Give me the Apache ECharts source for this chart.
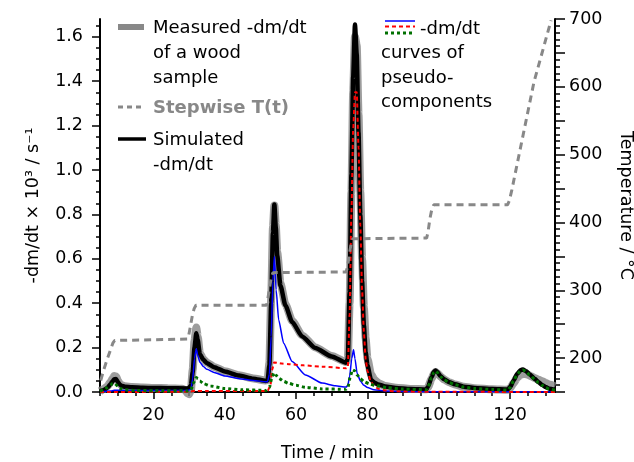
<!DOCTYPE html>
<html>
<head>
<meta charset="utf-8">
<script src="https://cdn.jsdelivr.net/npm/echarts@6/dist/echarts.min.js"></script>
<style>html,body{margin:0;padding:0;background:#fff}#c{width:634px;height:462px}</style>
</head>
<body>
<div id="c"></div>
<script>
// ---- data (time in min, -dm/dt ×10^3 in 1/s, temperature in °C) ----
var measuredT = [5,6,7,8,8.5,9,9.5,10,10.5,11,12,14,17,20,24,28,29,29.5,30,30.5,31,31.5,32,32.4,33,34,35,37,40,44,48,51.5,52,52.5,53,53.5,53.9,54.3,54.7,55.6,57,58.9,61.7,65.4,70,74,74.5,75,75.5,76,76.5,77,77.5,78,78.5,79,79.5,80,81,82,83,85,88,92,96.5,97,98,98.6,99.1,99.6,100.5,101.5,103,104.5,107,110,115,119.3,120,121,122,123,124,125,126,127,128,129,130,131,132.6];
var measuredV = [0.004,0.012,0.025,0.045,0.06,0.072,0.07,0.052,0.038,0.031,0.026,0.022,0.02,0.018,0.017,0.015,0.008,-0.005,-0.01,0.01,0.1,0.23,0.29,0.25,0.175,0.148,0.132,0.113,0.093,0.075,0.061,0.052,0.055,0.13,0.42,0.74,0.84,0.75,0.63,0.49,0.395,0.32,0.255,0.2,0.162,0.135,0.15,0.4,0.9,1.35,1.6,1.56,1.25,0.9,0.6,0.38,0.24,0.15,0.08,0.055,0.04,0.027,0.019,0.014,0.012,0.022,0.06,0.082,0.09,0.085,0.07,0.056,0.043,0.034,0.024,0.017,0.012,0.01,0.017,0.04,0.065,0.078,0.082,0.078,0.07,0.062,0.055,0.048,0.041,0.034,0.025];

var simulatedT = [5,6,7,8,8.5,9,9.5,10,10.5,11,12,14,17,20,24,29.5,30,30.5,31,31.5,32,32.4,33,34,35,37,40,44,48,51.5,52,52.5,53,53.5,53.9,54.3,54.7,55.6,57,58.9,61.7,65.4,70,74,74.5,75,75.5,76,76.5,77,77.5,78,78.5,79,79.5,80,81,82,83,85,88,92,96.5,97,98,98.6,99.1,99.6,100.5,101.5,103,104.5,107,110,115,119.3,120,121,122,123,123.6,124.5,125.5,127,128,129,130,131,132.6];
var simulatedV = [0.003,0.008,0.018,0.036,0.048,0.057,0.058,0.045,0.034,0.028,0.024,0.021,0.019,0.018,0.017,0.016,0.018,0.03,0.09,0.2,0.265,0.235,0.17,0.145,0.13,0.112,0.092,0.074,0.06,0.05,0.052,0.12,0.4,0.72,0.845,0.74,0.615,0.48,0.39,0.315,0.25,0.198,0.16,0.132,0.15,0.45,0.98,1.42,1.655,1.52,1.17,0.8,0.5,0.3,0.18,0.12,0.055,0.042,0.034,0.025,0.018,0.013,0.011,0.024,0.067,0.09,0.097,0.09,0.071,0.057,0.044,0.035,0.024,0.018,0.013,0.011,0.022,0.052,0.082,0.099,0.101,0.094,0.079,0.058,0.044,0.032,0.022,0.015,0.01];

var comp1T = [5,8,9,10,12,20,29.5,30.5,31,31.5,32,32.4,33,34,35,37,40,44,48,51.5,52,52.5,53,53.5,53.9,54.4,55.1,56.5,58.9,62.6,67.3,71,74,74.5,75,75.6,76.1,76.5,77.1,78,79,80,81.8,85,90,100,132.6];
var comp1V = [0,0.004,0.008,0.008,0.007,0.007,0.007,0.012,0.06,0.15,0.195,0.165,0.135,0.115,0.102,0.088,0.072,0.06,0.052,0.046,0.047,0.08,0.25,0.5,0.61,0.46,0.325,0.22,0.137,0.077,0.04,0.028,0.022,0.03,0.07,0.15,0.19,0.15,0.085,0.05,0.03,0.02,0.01,0.005,0.002,0.001,0];

var comp2T = [5,30,31,35,52,52.8,53.3,53.8,56,58,62,67.3,74,74.5,75,75.5,76,76.5,77,77.5,78,78.5,79,79.5,80,81,82,83,85,88,95,132.6];
var comp2V = [0,0.001,0.004,0.004,0.005,0.03,0.1,0.133,0.128,0.125,0.12,0.114,0.107,0.11,0.35,0.8,1.18,1.35,1.35,1.1,0.75,0.46,0.27,0.15,0.095,0.045,0.025,0.015,0.007,0.003,0.001,0];

var comp3T = [5,6,7,8,8.5,9,9.5,10,11,12,15,20,29.5,30.5,31.2,32,32.5,33,34,36,40,45,51.5,52.5,53.2,53.8,54.4,55.1,56.5,57.9,60,62.6,67.3,74,74.5,75.2,75.8,76.5,77.1,78,79,80.5,82,85.6,90,96.5,97,98,98.6,99.1,99.6,100.5,101.5,103,104.5,107,110,115,119.3,120,121,122,123,123.6,124.5,125.5,127,128,129,130,131,132.6];
var comp3V = [0.003,0.01,0.02,0.032,0.038,0.04,0.033,0.024,0.014,0.01,0.007,0.006,0.005,0.01,0.04,0.065,0.06,0.05,0.038,0.027,0.016,0.01,0.007,0.02,0.065,0.087,0.075,0.062,0.048,0.039,0.03,0.021,0.014,0.012,0.02,0.07,0.1,0.095,0.077,0.06,0.047,0.037,0.03,0.019,0.013,0.01,0.022,0.065,0.088,0.095,0.088,0.069,0.055,0.042,0.033,0.022,0.016,0.011,0.009,0.02,0.05,0.08,0.097,0.099,0.092,0.077,0.056,0.042,0.03,0.02,0.013,0.008];

var tempT = [5.2,6,7,8,8.6,9.1,9.6,29.5,29.9,30.4,30.9,31.4,31.9,51.7,52.0,52.5,53.0,53.5,74.0,74.4,74.9,75.4,75.9,96.6,97.0,97.5,98.0,98.6,119.3,119.8,120.5,126.7,131.5];
var tempV = [167,182,198,213,222,226,228,228,234,248,263,273,278,278,285,302,318,326,327,334,352,368,376,377,386,405,418,426,426,432,448,607,698];

var xMajorTicks = [20,40,60,80,100,120];
var xMinorTicks = [5,10,15,25,30,35,45,50,55,65,70,75,85,90,95,105,110,115,125,130];
var yMajorTicks = [0,0.2,0.4,0.6,0.8,1.0,1.2,1.4,1.6];
var yMinorTicks = [0.05,0.1,0.15,0.25,0.3,0.35,0.45,0.5,0.55,0.65,0.7,0.75,0.85,0.9,0.95,1.05,1.1,1.15,1.25,1.3,1.35,1.45,1.5,1.55,1.65];
var tMajorTicks = [200,300,400,500,600,700];
var tMidTicks = [150,250,350,450,550,650];
var tMinorTicks = [160,170,180,190,210,220,230,240,260,270,280,290,310,320,330,340,360,370,380,390,410,420,430,440,460,470,480,490,510,520,530,540,560,570,580,590,610,620,630,640,660,670,680,690];

function pairs(t, v) { return t.map(function (x, i) { return [x, v[i]]; }); }

var FONT = 'DejaVu Sans';
var X0 = 5, X1 = 132.6, Y0 = 0, Y1 = 1.68, T0 = 150, T1 = 700;

function xAx(ticks, len, labels, line) {
  return {
    type: 'value', min: X0, max: X1, position: 'bottom',
    splitLine: {show: false},
    axisLine: {show: line, onZero: false, lineStyle: {color: '#000', width: 2}},
    axisTick: {show: true, customValues: ticks, length: len, lineStyle: {color: '#000', width: 1.5}},
    axisLabel: labels ? {customValues: ticks, color: '#000', fontFamily: FONT, fontSize: 17.5, margin: 14} : {show: false},
    name: labels ? 'Time / min' : '', nameLocation: 'middle', nameGap: 52,
    nameTextStyle: {color: '#000', fontFamily: FONT, fontSize: 17.5}
  };
}
function yAx(pos, min, max, ticks, len, labels, line, name, rot, gap, margin, fmt) {
  return {
    type: 'value', min: min, max: max, position: pos,
    splitLine: {show: false},
    axisLine: {show: line, onZero: false, lineStyle: {color: '#000', width: 2}},
    axisTick: {show: true, customValues: ticks, length: len, lineStyle: {color: '#000', width: 1.5}},
    axisLabel: labels ? {customValues: ticks, color: '#000', fontFamily: FONT, fontSize: 17.5, margin: margin, formatter: fmt} : {show: false},
    name: name, nameLocation: 'middle', nameRotate: rot, nameGap: gap,
    nameTextStyle: {color: '#000', fontFamily: FONT, fontSize: 17.5}
  };
}

var chart = echarts.init(document.getElementById('c'), null, {renderer: 'canvas'});

var leg = [];
function txt(x, y, s, extra) {
  var st = {text: s, x: 0, y: 0, fill: '#000', font: '18px "' + FONT + '"', textVerticalAlign: 'middle', textAlign: 'left'};
  if (extra) for (var p in extra) st[p] = extra[p];
  leg.push({type: 'text', x: x, y: y, style: st, z: 100});
}
function seg(x1, y1, x2, y2, stroke, w, dash) {
  leg.push({type: 'line', shape: {x1: x1, y1: y1, x2: x2, y2: y2}, style: {stroke: stroke, lineWidth: w, lineDash: dash || null}, z: 100});
}
seg(118, 27, 144, 27, '#888888', 6);
txt(153, 28, 'Measured -dm/dt');
txt(153, 53, 'of a wood');
txt(153, 78, 'sample');
seg(118, 107, 145, 107, '#888888', 3, [5, 4]);
txt(153, 108, 'Stepwise T(t)', {fill: '#888888', font: 'bold 18px "' + FONT + '"'});
seg(118, 139, 146, 139, '#000', 3.5);
txt(153, 140, 'Simulated');
txt(153, 165, '-dm/dt');
seg(385, 21, 415, 21, '#0000ff', 1.5);
seg(385, 26.5, 415, 26.5, '#ff0000', 2, [4, 3]);
seg(385, 33, 415, 33, '#007000', 3, [3, 3]);
txt(420, 29, '-dm/dt');
txt(381, 53, 'curves of');
txt(381, 78, 'pseudo-');
txt(381, 102, 'components');

chart.setOption({
  animation: false,
  backgroundColor: '#fff',
  grid: {left: 100, right: 79, top: 19, bottom: 70, containLabel: false, outerBoundsMode: 'none'},
  xAxis: [xAx(xMajorTicks, 7, true, true), xAx(xMinorTicks, 4, false, false)],
  yAxis: [
    yAx('left', Y0, Y1, yMajorTicks, 8, true, true, '-dm/dt × 10³ / s⁻¹', 90, 58, 17, function (v) { return v.toFixed(1); }),
    yAx('right', T0, T1, tMajorTicks, 10, true, true, 'Temperature / °C', -90, 62, 14, function (v) { return String(v); }),
    yAx('left', Y0, Y1, yMinorTicks, 4, false, false, '', 0, 0, 0),
    yAx('right', T0, T1, tMidTicks, 10, false, false, '', 0, 0, 0),
    yAx('right', T0, T1, tMinorTicks, 5, false, false, '', 0, 0, 0)
  ],
  graphic: leg,
  series: [
    {name: 'Measured', type: 'line', data: pairs(measuredT, measuredV), xAxisIndex: 0, yAxisIndex: 0,
      showSymbol: false, clip: false, smooth: 0.2, smoothMonotone: 'x',
      lineStyle: {color: '#858585', width: 8, opacity: 0.8}, z: 2},
    {name: 'Simulated', type: 'line', data: pairs(simulatedT, simulatedV), yAxisIndex: 0,
      showSymbol: false, smooth: 0.2, smoothMonotone: 'x',
      lineStyle: {color: '#000', width: 4.5}, z: 3},
    {name: 'Comp1', type: 'line', data: pairs(comp1T, comp1V), yAxisIndex: 0,
      showSymbol: false, smooth: 0.2, smoothMonotone: 'x',
      lineStyle: {color: '#0000ff', width: 1.5}, z: 4},
    {name: 'Comp2', type: 'line', data: pairs(comp2T, comp2V), yAxisIndex: 0,
      showSymbol: false, smooth: 0.2, smoothMonotone: 'x',
      lineStyle: {color: '#ff0000', width: 2, type: [4, 3]}, z: 5},
    {name: 'Comp3', type: 'line', data: pairs(comp3T, comp3V), yAxisIndex: 0,
      showSymbol: false, smooth: 0.2, smoothMonotone: 'x',
      lineStyle: {color: '#007000', width: 3, type: [3, 3]}, z: 6},
    {name: 'Stepwise T(t)', type: 'line', data: pairs(tempT, tempV), yAxisIndex: 1,
      showSymbol: false, smooth: false,
      lineStyle: {color: '#888888', width: 3, type: [7, 5]}, z: 7}
  ]
});
</script>
</body>
</html>
